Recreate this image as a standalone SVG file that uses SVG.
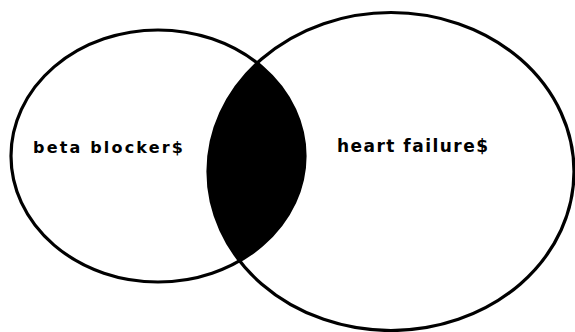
<svg xmlns="http://www.w3.org/2000/svg" width="575" height="332" viewBox="0 0 575 332">
<style>
.set{fill:none;stroke:#000;stroke-width:3.2}
.lbl{font-family:"DejaVu Sans","Liberation Sans",Arial,sans-serif;font-weight:bold;fill:#000}
</style>
<defs>
<clipPath id="clipRight"><ellipse cx="391" cy="171.5" rx="183" ry="159"/></clipPath>
</defs>
<rect width="575" height="332" fill="#fff"/>
<g id="intersection">
<ellipse cx="158" cy="156" rx="147" ry="126" fill="#000" clip-path="url(#clipRight)"/>
</g>
<g id="beta-blocker">
<ellipse class="set" cx="158" cy="156" rx="147" ry="126"/>
<text class="lbl" x="33" y="153" font-size="16" textLength="150" lengthAdjust="spacing">beta blocker$</text>
</g>
<g id="heart-failure">
<ellipse class="set" cx="391" cy="171.5" rx="183" ry="159"/>
<text class="lbl" x="337" y="152" font-size="17" textLength="151" lengthAdjust="spacing">heart failure$</text>
</g>
</svg>
